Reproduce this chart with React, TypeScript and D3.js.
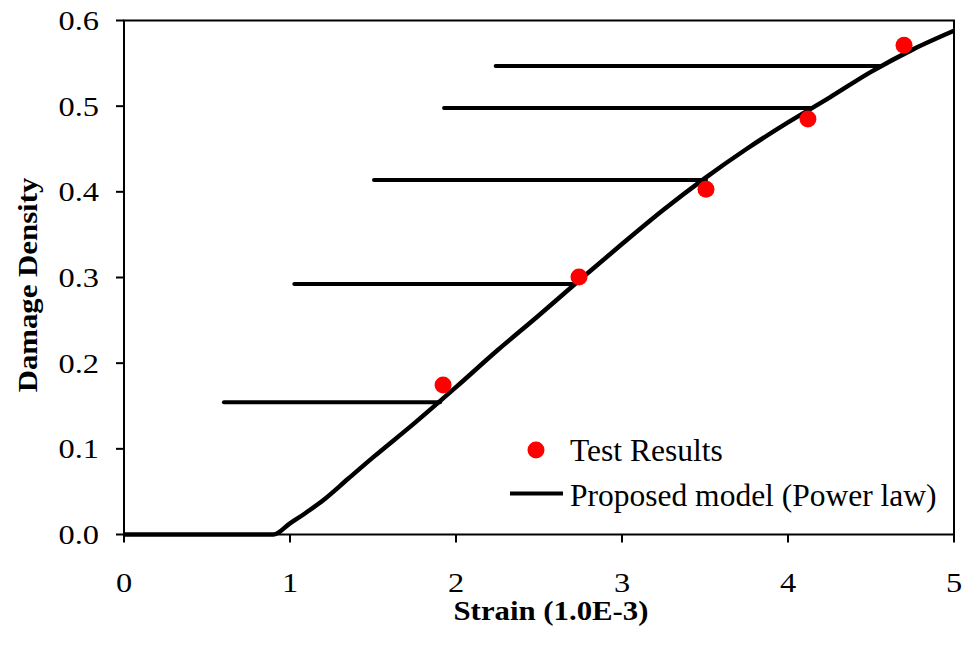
import React, { useEffect, useRef } from "react";
import * as d3 from "d3";

// Proposed power-law model: strain (1.0E-3) vs damage density
const modelStrain = [0, 0.9, 1.0, 1.1, 1.2, 1.35, 1.5, 1.75, 2.0, 2.25, 2.5, 2.75, 3.0, 3.25, 3.5, 3.75, 4.0, 4.25, 4.5, 4.75, 5.0];
const modelDamage = [0, 0, 0.013, 0.026, 0.04, 0.065, 0.09, 0.13, 0.172, 0.215, 0.256, 0.298, 0.339, 0.379, 0.416, 0.45, 0.481, 0.51, 0.54, 0.566, 0.588];

// Test results
const testStrain = [1.922, 2.741, 3.506, 4.12, 4.699];
const testDamage = [0.1745, 0.3006, 0.403, 0.485, 0.571];

// Horizontal strain ranges at each damage level
const rangeDamage = [0.1543, 0.2924, 0.4138, 0.498, 0.547];
const rangeStart = [0.602, 1.026, 1.506, 1.928, 2.239];
const rangeEnd = [1.904, 2.699, 3.506, 4.145, 4.554];

const xTicks = [0, 1, 2, 3, 4, 5];
const yTicks = [0, 0.1, 0.2, 0.3, 0.4, 0.5, 0.6];

const xTitle = "Strain (1.0E-3)";
const yTitle = "Damage Density";
const legendLabels = ["Test Results", "Proposed model (Power law)"];

const W = 966;
const H = 647;
const FONT = "'Liberation Serif', 'Times New Roman', serif";

export default function App() {
  const ref = useRef<SVGSVGElement | null>(null);

  useEffect(() => {
    document.body.style.margin = "0";
    const svg = d3.select(ref.current);
    svg.selectAll("*").remove();

    const x = d3.scaleLinear().domain([0, 5]).range([124, 954]);
    const y = d3.scaleLinear().domain([0, 0.6]).range([534.5, 20.5]);

    svg.append("rect").attr("width", W).attr("height", H).attr("fill", "#fff");

    // plot frame
    svg
      .append("rect")
      .attr("x", x(0))
      .attr("y", y(0.6))
      .attr("width", x(5) - x(0))
      .attr("height", y(0) - y(0.6))
      .attr("fill", "none")
      .attr("stroke", "#000")
      .attr("stroke-width", 2);

    // ticks
    svg
      .selectAll("line.xt")
      .data(xTicks)
      .join("line")
      .attr("x1", (d) => x(d))
      .attr("x2", (d) => x(d))
      .attr("y1", y(0))
      .attr("y2", y(0) + 8)
      .attr("stroke", "#000")
      .attr("stroke-width", 2);
    svg
      .selectAll("line.yt")
      .data(yTicks)
      .join("line")
      .attr("x1", x(0) - 8)
      .attr("x2", x(0))
      .attr("y1", (d) => y(d))
      .attr("y2", (d) => y(d))
      .attr("stroke", "#000")
      .attr("stroke-width", 2);

    // tick labels
    svg
      .selectAll("text.xl")
      .data(xTicks)
      .join("text")
      .attr("transform", (d) => `translate(${x(d)},592) scale(1.2,1)`)
      .attr("text-anchor", "middle")
      .attr("font-family", FONT)
      .attr("font-size", 27)
      .text((d) => String(d));
    svg
      .selectAll("text.yl")
      .data(yTicks)
      .join("text")
      .attr("transform", (d) => `translate(99,${y(d) + 9.5}) scale(1.2,1)`)
      .attr("text-anchor", "end")
      .attr("font-family", FONT)
      .attr("font-size", 27)
      .text((d) => d.toFixed(1));

    // axis titles
    svg
      .append("text")
      .attr("transform", `translate(551,620) scale(1.1,1)`)
      .attr("text-anchor", "middle")
      .attr("font-family", FONT)
      .attr("font-weight", "bold")
      .attr("font-size", 28)
      .text(xTitle);
    svg
      .append("text")
      .attr("transform", `translate(37,285) rotate(-90) scale(1.1,1)`)
      .attr("text-anchor", "middle")
      .attr("font-family", FONT)
      .attr("font-weight", "bold")
      .attr("font-size", 28)
      .text(yTitle);

    // strain ranges
    svg
      .selectAll("line.range")
      .data(rangeDamage)
      .join("line")
      .attr("x1", (_, i) => x(rangeStart[i]))
      .attr("x2", (_, i) => x(rangeEnd[i]))
      .attr("y1", (d) => y(d))
      .attr("y2", (d) => y(d))
      .attr("stroke", "#000")
      .attr("stroke-width", 4)
      .attr("stroke-linecap", "round");

    // model curve
    const line = d3
      .line<number>()
      .x((d) => x(d))
      .y((_, i) => y(modelDamage[i]))
      .curve(d3.curveMonotoneX);
    svg
      .append("path")
      .attr("d", line(modelStrain))
      .attr("fill", "none")
      .attr("stroke", "#000")
      .attr("stroke-width", 4.5)
      .attr("stroke-linejoin", "round");

    // test points
    svg
      .selectAll("circle.pt")
      .data(testStrain)
      .join("circle")
      .attr("cx", (d) => x(d))
      .attr("cy", (_, i) => y(testDamage[i]))
      .attr("r", 8.5)
      .attr("fill", "#ff0000");

    // legend
    const lg = svg.append("g");
    lg.append("circle").attr("cx", 536).attr("cy", 450).attr("r", 8.5).attr("fill", "#ff0000");
    lg.append("line")
      .attr("x1", 510)
      .attr("x2", 563)
      .attr("y1", 493.5)
      .attr("y2", 493.5)
      .attr("stroke", "#000")
      .attr("stroke-width", 4);
    lg.selectAll("text")
      .data(legendLabels)
      .join("text")
      .attr("x", 570)
      .attr("y", (_, i) => 461 + i * 45)
      .attr("font-family", FONT)
      .attr("font-size", 31.5)
      .text((d) => d);
  }, []);

  return (
    <svg
      ref={ref}
      width={W}
      height={H}
      style={{ position: "absolute", left: 0, top: 0, display: "block" }}
    />
  );
}
